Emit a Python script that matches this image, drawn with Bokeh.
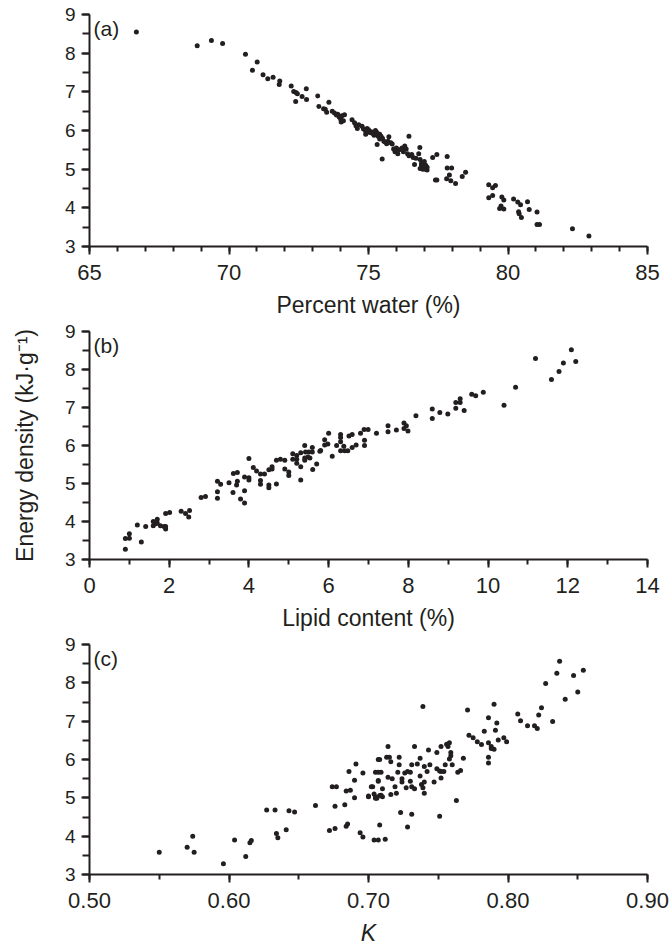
from bokeh.plotting import figure
from bokeh.layouts import column
from bokeh.models import Range1d, FixedTicker, NumeralTickFormatter, Label
from bokeh.embed import file_html
from bokeh.resources import INLINE

# ---------------- data ----------------
# (a) energy density vs percent water
water_pct = [66.68, 68.86, 69.37, 69.77, 70.59, 71.01, 70.84, 71.22, 71.39, 71.58, 71.82, 71.80,
             72.23, 72.32, 72.40, 72.45, 72.77, 72.62, 72.39, 72.78, 73.18, 73.22, 73.39, 73.58,
             73.50, 73.45, 73.70, 73.78, 73.85, 73.90, 73.95, 74.00, 74.05, 74.02, 74.10, 74.14,
             74.41, 74.50, 74.55, 74.60, 74.65, 74.77, 74.82, 74.90, 74.95, 75.00, 75.05, 74.90,
             75.10, 75.15, 75.20, 75.25, 75.30, 75.35, 75.40, 75.40, 75.45, 75.50, 75.31, 75.55,
             75.60, 75.65, 75.70, 75.80, 75.85, 75.73, 76.45, 75.90, 75.95, 76.00, 76.05, 76.10,
             76.20, 76.25, 76.30, 76.35, 76.40, 76.45, 76.55, 75.49, 76.84, 76.60, 76.70, 76.65,
             76.80, 76.85, 76.90, 76.90, 76.95, 77.00, 77.05, 77.05, 77.10, 76.95, 77.10, 76.85,
             77.30, 77.45, 77.82, 77.82, 77.98, 77.90, 77.80, 77.45, 77.40, 77.95, 78.12, 78.36,
             78.48, 79.31, 79.45, 79.55, 79.31, 79.45, 79.78, 79.85, 79.75, 79.70, 79.85, 80.20,
             80.35, 80.45, 80.38, 80.40, 80.48, 80.70, 80.76, 81.04, 81.04, 81.13, 82.31, 82.90]
energy_a = [8.55, 8.19, 8.33, 8.25, 7.97, 7.77, 7.56, 7.44, 7.34, 7.38, 7.28, 7.19,
            7.15, 7.01, 6.98, 6.95, 7.08, 6.88, 6.75, 6.80, 6.89, 6.62, 6.56, 6.73,
            6.47, 6.55, 6.50, 6.45, 6.40, 6.42, 6.35, 6.30, 6.38, 6.22, 6.25, 6.41,
            6.28, 6.20, 6.12, 6.05, 6.15, 6.11, 6.04, 5.98, 6.05, 6.02, 5.95, 5.90,
            5.97, 5.92, 5.88, 6.00, 5.95, 5.85, 5.90, 5.78, 5.85, 5.80, 5.64, 5.72,
            5.70, 5.66, 5.72, 5.68, 5.65, 5.84, 5.85, 5.52, 5.45, 5.55, 5.40, 5.50,
            5.55, 5.45, 5.60, 5.52, 5.40, 5.35, 5.38, 5.26, 5.56, 5.30, 5.28, 5.12,
            5.40, 5.25, 5.15, 5.10, 5.08, 5.20, 5.10, 5.00, 5.05, 5.00, 4.98, 5.02,
            5.30, 5.38, 5.33, 5.03, 5.03, 4.85, 4.75, 4.72, 4.72, 4.70, 4.63, 4.81,
            4.92, 4.60, 4.52, 4.58, 4.26, 4.32, 4.28, 4.20, 4.05, 3.98, 3.97, 4.23,
            4.15, 4.08, 3.90, 3.85, 3.75, 4.16, 3.96, 3.89, 3.57, 3.57, 3.46, 3.27]

# (b) energy density vs lipid content
lipid_pct = [0.90, 0.90, 1.00, 1.00, 1.20, 1.30, 1.41, 1.60, 1.60, 1.70, 1.70, 1.66, 1.78, 1.87,
             1.91, 1.91, 1.91, 2.01, 2.30, 2.41, 2.51, 2.49, 2.80, 2.91, 3.21, 3.29, 3.21, 3.21,
             3.50, 3.60, 3.61, 3.71, 3.69, 3.71, 3.79, 3.89, 3.89, 3.89, 4.00, 4.00, 4.00, 4.11,
             4.19, 4.29, 4.29, 4.29, 4.39, 4.50, 4.50, 4.50, 4.58, 4.58, 4.69, 4.69, 4.79, 4.90,
             4.90, 5.00, 5.00, 5.10, 5.10, 5.20, 5.20, 5.30, 5.30, 5.20, 5.30, 5.40, 5.40, 5.50,
             5.59, 5.60, 5.70, 5.78, 5.53, 5.40, 5.42, 5.59, 5.48, 5.80, 5.90, 5.90, 5.98, 6.00,
             6.09, 6.20, 6.30, 6.30, 6.30, 6.30, 6.38, 6.40, 6.48, 6.51, 6.59, 6.59, 6.69, 6.80,
             6.89, 6.90, 6.90, 6.99, 7.20, 7.49, 7.49, 7.70, 7.89, 7.95, 7.89, 7.99, 8.19, 8.60,
             8.60, 8.79, 8.99, 9.19, 9.19, 9.30, 9.30, 9.40, 9.59, 9.69, 9.88, 10.40, 10.69, 11.19,
             11.59, 11.78, 11.89, 12.09, 12.20]
energy_b = [3.27, 3.55, 3.56, 3.68, 3.91, 3.46, 3.87, 4.00, 3.89, 4.06, 3.96, 3.94, 3.89, 3.87,
            3.80, 3.87, 4.21, 4.24, 4.27, 4.21, 4.29, 4.12, 4.63, 4.66, 5.06, 4.98, 4.78, 4.61,
            5.02, 4.76, 5.26, 5.29, 4.96, 5.06, 4.59, 4.49, 4.81, 5.17, 5.66, 5.15, 5.09, 5.42,
            5.33, 5.25, 5.08, 4.98, 5.25, 4.96, 4.89, 5.36, 5.38, 5.44, 4.99, 5.61, 5.64, 5.61,
            5.38, 5.30, 5.21, 5.78, 5.64, 5.64, 5.53, 5.44, 5.09, 5.74, 5.81, 6.00, 5.67, 5.83,
            5.95, 5.37, 5.51, 5.85, 5.67, 5.61, 5.83, 5.83, 5.70, 5.87, 6.15, 6.01, 6.04, 6.32,
            5.72, 6.00, 6.29, 6.21, 6.10, 5.86, 5.98, 5.86, 5.86, 6.25, 6.29, 5.95, 6.01, 6.32,
            6.42, 6.14, 6.00, 6.42, 6.32, 6.52, 6.36, 6.41, 6.59, 6.52, 6.45, 6.38, 6.78, 6.96,
            6.71, 6.87, 6.83, 7.13, 6.98, 7.23, 7.13, 6.92, 7.35, 7.31, 7.40, 7.06, 7.53, 8.29,
            7.74, 7.95, 8.17, 8.52, 8.21]

# (c) energy density vs condition factor K
k_factor = [0.550, 0.570, 0.574, 0.575, 0.596, 0.604, 0.612, 0.615, 0.616, 0.627, 0.633, 0.634,
            0.635, 0.641, 0.643, 0.647, 0.662, 0.672, 0.676, 0.674, 0.677, 0.676, 0.683, 0.684,
            0.687, 0.690, 0.690, 0.686, 0.691, 0.696, 0.684, 0.685, 0.694, 0.696, 0.704, 0.707,
            0.712, 0.702, 0.700, 0.704, 0.705, 0.707, 0.707, 0.708, 0.723, 0.731, 0.728, 0.751,
            0.703, 0.705, 0.708, 0.706, 0.709, 0.710, 0.707, 0.709, 0.707, 0.708, 0.710, 0.713,
            0.715, 0.714, 0.714, 0.716, 0.716, 0.717, 0.719, 0.720, 0.721, 0.722, 0.722, 0.724,
            0.724, 0.726, 0.727, 0.728, 0.730, 0.730, 0.731, 0.731, 0.733, 0.733, 0.735, 0.737,
            0.737, 0.738, 0.739, 0.740, 0.740, 0.740, 0.742, 0.743, 0.744, 0.747, 0.749, 0.749,
            0.751, 0.752, 0.752, 0.752, 0.754, 0.755, 0.756, 0.758, 0.757, 0.759, 0.759, 0.760,
            0.758, 0.764, 0.766, 0.768, 0.763, 0.739, 0.771, 0.772, 0.775, 0.778, 0.781, 0.783,
            0.786, 0.786, 0.788, 0.788, 0.790, 0.791, 0.792, 0.790, 0.793, 0.797, 0.799, 0.786,
            0.786, 0.807, 0.809, 0.814, 0.819, 0.821, 0.822, 0.824, 0.832, 0.827, 0.835, 0.837,
            0.847, 0.854, 0.850, 0.841, 0.700, 0.705]
energy_c = [3.58, 3.71, 4.00, 3.58, 3.28, 3.90, 3.47, 3.83, 3.89, 4.68, 4.68, 4.07,
            3.96, 4.17, 4.66, 4.63, 4.80, 4.15, 4.20, 5.29, 5.29, 4.78, 4.82, 5.18,
            5.20, 5.00, 5.46, 5.69, 5.88, 5.65, 4.26, 4.32, 4.09, 3.98, 3.90, 3.90,
            3.92, 5.29, 5.05, 5.10, 5.67, 6.00, 5.45, 4.29, 4.62, 4.57, 4.24, 4.52,
            5.29, 5.03, 5.06, 4.99, 5.07, 5.03, 5.67, 5.67, 5.43, 6.00, 5.24, 6.06,
            6.06, 5.54, 6.34, 5.09, 5.94, 5.50, 5.29, 5.12, 5.67, 6.06, 5.86, 5.50,
            5.41, 5.65, 5.26, 5.69, 5.67, 5.43, 5.86, 5.29, 5.24, 6.34, 5.88, 6.03,
            5.57, 5.35, 5.26, 5.82, 5.12, 5.41, 5.69, 6.25, 5.86, 5.41, 6.18, 5.76,
            5.70, 5.52, 6.34, 5.69, 5.69, 5.86, 6.40, 6.44, 6.34, 6.18, 6.10, 5.86,
            6.01, 5.67, 5.71, 6.03, 4.93, 7.38, 7.29, 6.63, 6.57, 6.46, 6.39, 6.74,
            6.44, 7.09, 6.34, 6.29, 6.27, 6.76, 6.95, 7.44, 6.51, 6.57, 6.46, 6.06,
            5.91, 7.19, 7.01, 6.88, 6.88, 6.81, 7.16, 7.35, 6.99, 7.98, 8.25, 8.56,
            8.19, 8.33, 7.76, 7.57, 5.03, 4.99]

y_major = [3, 4, 5, 6, 7, 8, 9]
y_minor = [3 + 0.5 * i for i in range(13)]

INK = "#231f20"
FONT = "Liberation Sans"


def panel(height, b_top, b_bottom, x_range, x_major, x_minor, xs, ys, xlabel, letter,
          ylabel="", italic=False, fmt=None):
    p = figure(width=672, height=height, x_range=Range1d(*x_range), y_range=Range1d(3, 9),
               output_backend="svg", toolbar_location=None,
               min_border_left=89, min_border_right=25,
               min_border_top=b_top, min_border_bottom=b_bottom)
    p.outline_line_color = None
    p.grid.visible = False

    p.scatter(xs, ys, size=5, color=INK, line_color=None)

    xa = p.xaxis[0]
    xa.ticker = FixedTicker(ticks=x_major, minor_ticks=x_minor)
    if fmt is not None:
        xa.formatter = NumeralTickFormatter(format=fmt)
    xa.axis_label = xlabel
    xa.axis_label_text_font = FONT
    xa.axis_label_text_font_size = "23px"
    xa.axis_label_text_color = INK
    xa.axis_label_text_font_style = "italic" if italic else "normal"
    xa.axis_label_standoff = 9
    xa.major_label_text_font = FONT
    xa.major_label_text_font_size = "22px"
    xa.major_label_text_color = INK
    xa.major_label_standoff = 10
    xa.major_tick_out = 8
    xa.major_tick_in = 0
    xa.minor_tick_out = 5
    xa.minor_tick_in = 0
    xa.axis_line_width = 2
    xa.major_tick_line_width = 2
    xa.minor_tick_line_width = 2
    xa.axis_line_color = INK
    xa.major_tick_line_color = INK
    xa.minor_tick_line_color = INK

    ya = p.yaxis[0]
    ya.ticker = FixedTicker(ticks=y_major, minor_ticks=y_minor)
    ya.axis_label = ylabel if ylabel else None
    ya.axis_label_text_font = FONT
    ya.axis_label_text_font_size = "23px"
    ya.axis_label_text_color = INK
    ya.axis_label_text_font_style = "normal"
    ya.axis_label_standoff = 24
    ya.major_label_text_font = FONT
    ya.major_label_text_font_size = "19px"
    ya.major_label_text_color = INK
    ya.major_label_standoff = 6
    ya.major_tick_out = 8
    ya.major_tick_in = 0
    ya.minor_tick_out = 7
    ya.minor_tick_in = 0
    ya.axis_line_width = 2
    ya.major_tick_line_width = 2
    ya.minor_tick_line_width = 2
    ya.axis_line_color = INK
    ya.major_tick_line_color = INK
    ya.minor_tick_line_color = INK

    p.add_layout(Label(x=x_range[0], y=9, x_offset=4, y_offset=-2, text=letter,
                       text_baseline="top", text_font=FONT, text_font_size="21px",
                       text_color=INK))
    return p


pa = panel(320, 14, 72, (65, 85), [65, 70, 75, 80, 85], list(range(65, 86)),
           water_pct, energy_a, "Percent water (%)", "(a)")
pb = panel(313, 11, 72, (0, 14), list(range(0, 15, 2)), list(range(0, 15)),
           lipid_pct, energy_b, "Lipid content (%)", "(b)",
           ylabel="Energy density (kJ\u00b7g\u207b\u00b9)")
pc = panel(318, 11, 77, (0.5, 0.9), [0.5, 0.6, 0.7, 0.8, 0.9],
           [0.5 + 0.05 * i for i in range(9)],
           k_factor, energy_c, "K", "(c)", italic=True, fmt="0.00")

layout = column(pa, pb, pc, spacing=0)
open("out.html", "w").write(file_html(layout, INLINE))
